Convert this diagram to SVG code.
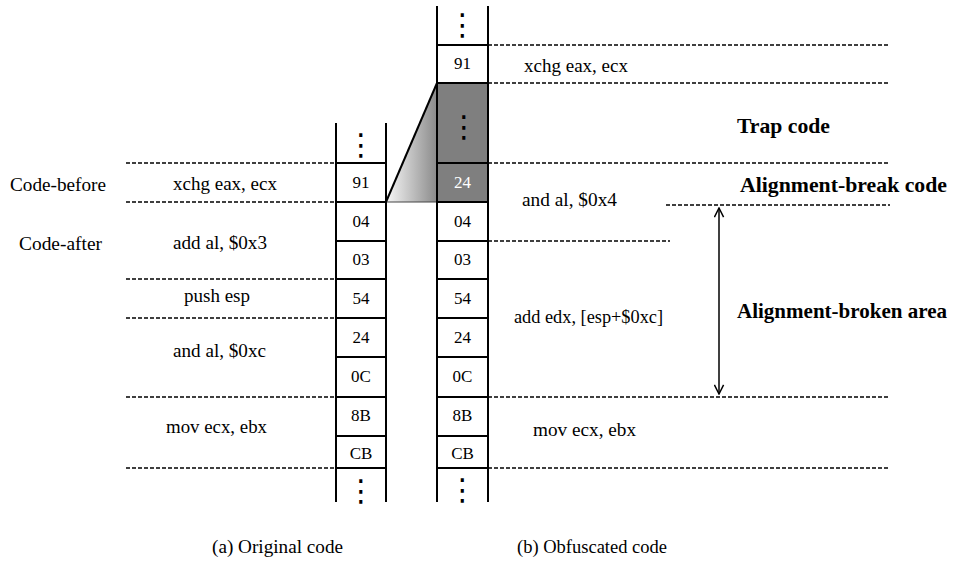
<svg xmlns="http://www.w3.org/2000/svg" width="959" height="562" viewBox="0 0 959 562">
<style>
.t{font-family:"Liberation Serif","Times New Roman",serif;font-size:18px;fill:#000}
.b{font-family:"Liberation Serif","Times New Roman",serif;font-size:21px;font-weight:bold;fill:#000}
.c{font-family:"Liberation Serif","Times New Roman",serif;font-size:17px;fill:#000;text-anchor:middle}
.w{fill:#fff}
.dots{font-family:"DejaVu Sans",sans-serif;font-size:30px;text-anchor:middle;fill:#000}
.col{stroke:#000;stroke-width:2;fill:none}
.dash{stroke:#000;stroke-width:1.3;stroke-dasharray:4 2;fill:none}
.arr{stroke:#000;stroke-width:1.5;fill:none}
</style>
<defs>
<linearGradient id="g" x1="386" y1="0" x2="437" y2="0" gradientUnits="userSpaceOnUse">
<stop offset="0" stop-color="#f8f8f8"/>
<stop offset="1" stop-color="#8a8a8a"/>
</linearGradient>
<marker id="ah" viewBox="0 0 12 12" refX="11" refY="6" markerWidth="11" markerHeight="11" orient="auto-start-reverse" markerUnits="userSpaceOnUse">
<path d="M1,1 L11,6 L1,11" fill="none" stroke="#000" stroke-width="1.6"/>
</marker>
</defs>

<g id="connectors">
<path class="dash" d="M126,163H336M126,202H336M126,279H336M126,318H336M126,397H336M126,468H336"/>
<path class="dash" d="M488,45H890M488,83H890M488,163H890M666,205H890M488,241H670M488,397H890M488,468H890"/>
<line class="arr" x1="719" y1="208" x2="719" y2="394" marker-start="url(#ah)" marker-end="url(#ah)"/>
</g>

<g id="trap-wedge">
<polygon points="386,202 437,83 437,202" fill="url(#g)"/>
<line x1="386" y1="202" x2="437" y2="202" stroke="#444" stroke-width="1"/>
<line x1="386" y1="202" x2="437" y2="83" stroke="#000" stroke-width="2"/>
</g>

<g id="original-column">
<path class="col" d="M336,123V502M386,123V502"/>
<path class="col" d="M336,163H386M336,202H386M336,241H386M336,279H386M336,318H386M336,357H386M336,397H386M336,436H386M336,468H386"/>
<text class="dots" x="361" y="155">⋮</text>
<text class="c" x="361" y="188">91</text>
<text class="c" x="361" y="227">04</text>
<text class="c" x="361" y="265">03</text>
<text class="c" x="361" y="304">54</text>
<text class="c" x="361" y="343">24</text>
<text class="c" x="361" y="382">0C</text>
<text class="c" x="361" y="421">8B</text>
<text class="c" x="361" y="459">CB</text>
<text class="dots" x="361" y="501">⋮</text>
</g>

<g id="obfuscated-column">
<rect x="437" y="83" width="51" height="119" fill="#7f7f7f"/>
<path class="col" d="M437,6V502M488,6V502"/>
<path class="col" d="M437,45H488M437,83H488M437,163H488M437,202H488M437,241H488M437,279H488M437,318H488M437,357H488M437,397H488M437,436H488M437,468H488"/>
<text class="dots" x="462.5" y="35">⋮</text>
<text class="c" x="462.5" y="69">91</text>
<text class="dots w" x="464" y="137">⋮</text>
<text class="c w" x="462.5" y="188">24</text>
<text class="c" x="462.5" y="227">04</text>
<text class="c" x="462.5" y="265">03</text>
<text class="c" x="462.5" y="304">54</text>
<text class="c" x="462.5" y="343">24</text>
<text class="c" x="462.5" y="382">0C</text>
<text class="c" x="462.5" y="421">8B</text>
<text class="c" x="462.5" y="459">CB</text>
<text class="dots" x="462.5" y="500">⋮</text>
</g>

<g id="original-labels">
<text class="t" x="10" y="191" textLength="96" lengthAdjust="spacingAndGlyphs">Code-before</text>
<text class="t" x="19" y="250" textLength="83" lengthAdjust="spacingAndGlyphs">Code-after</text>
<text class="t" x="173" y="190" textLength="104" lengthAdjust="spacingAndGlyphs">xchg eax, ecx</text>
<text class="t" x="173" y="249" textLength="94" lengthAdjust="spacingAndGlyphs">add al, $0x3</text>
<text class="t" x="184" y="302" textLength="66" lengthAdjust="spacingAndGlyphs">push esp</text>
<text class="t" x="173" y="357" textLength="93" lengthAdjust="spacingAndGlyphs">and al, $0xc</text>
<text class="t" x="166" y="433" textLength="101" lengthAdjust="spacingAndGlyphs">mov ecx, ebx</text>
</g>

<g id="obfuscated-labels">
<text class="t" x="524" y="72" textLength="104" lengthAdjust="spacingAndGlyphs">xchg eax, ecx</text>
<text class="t" x="522" y="206" textLength="95" lengthAdjust="spacingAndGlyphs">and al, $0x4</text>
<text class="t" x="514" y="323" textLength="149" lengthAdjust="spacingAndGlyphs">add edx, [esp+$0xc]</text>
<text class="t" x="533" y="436" textLength="103" lengthAdjust="spacingAndGlyphs">mov ecx, ebx</text>
</g>

<g id="annotations">
<text class="b" x="737" y="133" textLength="93" lengthAdjust="spacingAndGlyphs">Trap code</text>
<text class="b" x="740" y="192" textLength="207" lengthAdjust="spacingAndGlyphs">Alignment-break code</text>
<text class="b" x="737" y="318" textLength="210" lengthAdjust="spacingAndGlyphs">Alignment-broken area</text>
</g>

<g id="captions">
<text class="t" x="212" y="553" textLength="131" lengthAdjust="spacingAndGlyphs">(a) Original code</text>
<text class="t" x="517" y="553" textLength="150" lengthAdjust="spacingAndGlyphs">(b) Obfuscated code</text>
</g>
</svg>
